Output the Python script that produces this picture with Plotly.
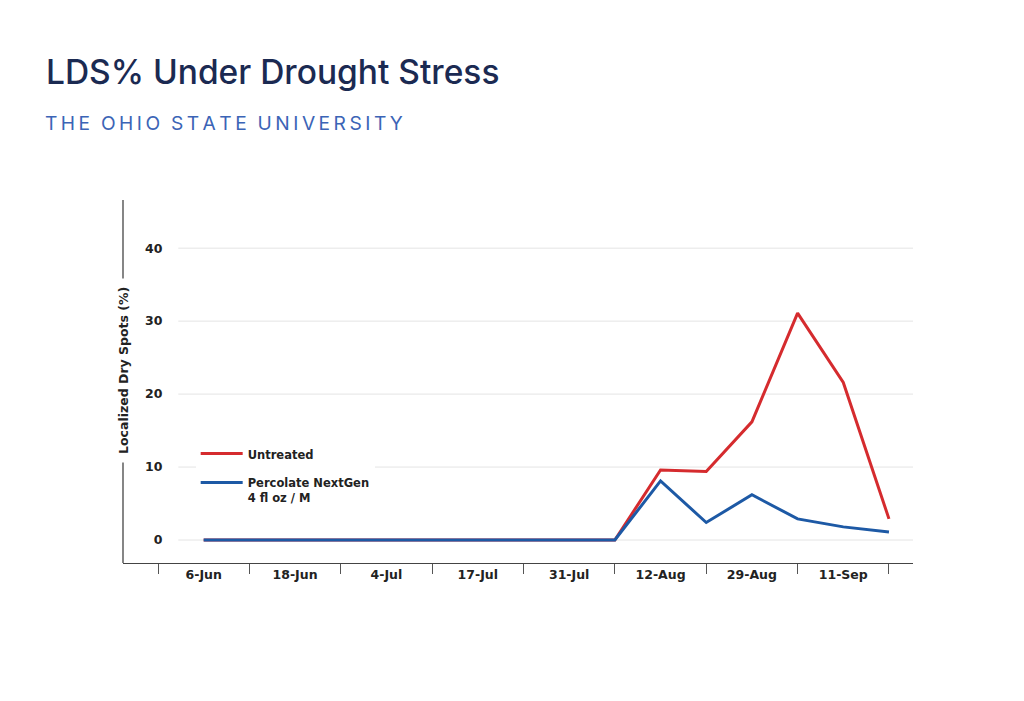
import plotly.graph_objects as go

# ---- data ----
categories = ["6-Jun", "18-Jun", "4-Jul", "17-Jul", "31-Jul", "12-Aug", "29-Aug", "11-Sep"]
obs_index = [0, 1, 2, 3, 4, 4.5, 5, 5.5, 6, 6.5, 7, 7.5]
untreated = [0, 0, 0, 0, 0, 0, 9.6, 9.4, 16.2, 31.1, 21.6, 2.9]
percolate = [0, 0, 0, 0, 0, 0, 8.1, 2.4, 6.2, 2.9, 1.8, 1.1]
y_ticks = [0, 10, 20, 30, 40]

RED = "#d52b2e"
BLUE = "#1d59a5"
BOLD = dict(family="DejaVu Sans", size=12, color="#222222", weight="bold")

fig = go.Figure()
fig.add_trace(go.Scatter(x=obs_index, y=untreated, mode="lines", name="Untreated",
                         legendgroup="a", line=dict(color=RED, width=3)))
fig.add_trace(go.Scatter(x=obs_index, y=percolate, mode="lines",
                         name="Percolate NextGen<br>4 fl oz / M", legendgroup="b",
                         line=dict(color=BLUE, width=3)))

# horizontal gridlines (start right of tick labels)
for v in y_ticks:
    fig.add_shape(type="line", xref="paper", yref="y", x0=0.07, x1=1, y0=v, y1=v,
                  line=dict(color="#e4e4e4", width=1), layer="below")

# y axis line at left edge
fig.add_shape(type="line", xref="paper", yref="paper", x0=0, x1=0, y0=0, y1=1,
              line=dict(color="#444444", width=1.3))

fig.update_layout(
    width=1024, height=701,
    margin=dict(l=123, r=111, t=200, b=138),
    paper_bgcolor="white", plot_bgcolor="white",
    showlegend=True,
    legend=dict(x=0.092, y=0.34, xanchor="left", yanchor="top", bgcolor="white",
                font=dict(BOLD, size=11.5),
                valign="top", tracegroupgap=10, itemwidth=42),
    xaxis=dict(
        range=[-0.883, 7.763], tickmode="array", tickvals=list(range(len(categories))),
        ticktext=categories, ticks="", showgrid=False, zeroline=False,
        showline=True, linecolor="#444444", linewidth=1.3,
        tickfont=dict(BOLD, size=12.5),
        minor=dict(ticks="outside", tick0=-0.5, dtick=1, ticklen=10,
                   tickcolor="#555555", tickwidth=1, showgrid=False),
    ),
    yaxis=dict(
        range=[-3.15, 46.6], tickmode="array", tickvals=y_ticks,
        anchor="free", position=0.05, showline=False, showgrid=False,
        zeroline=False, ticks="", tickfont=dict(BOLD, size=12.5),
    ),
)

# axis title over the y-axis line (white background creates the gap)
fig.add_annotation(text="Localized Dry Spots (%)", xref="paper", yref="paper",
                   x=0, y=(563 - 371) / 363, xanchor="center", yanchor="middle",
                   textangle=-90, showarrow=False, bgcolor="white",
                   font=dict(BOLD, size=12.5), borderpad=8)

# title and subtitle
fig.add_annotation(text="LDS% Under Drought Stress", xref="paper", yref="paper",
                   x=(44 - 123) / 790, y=1 + (200 - 72) / 363, xanchor="left", yanchor="middle",
                   showarrow=False,
                   font=dict(family="Inter", size=33.5, color="#1b2a52", weight=500))
fig.add_annotation(text="T\u2009H\u2009E  O\u2009H\u2009I\u2009O  S\u2009T\u2009A\u2009T\u2009E  U\u2009N\u2009I\u2009V\u2009E\u2009R\u2009S\u2009I\u2009T\u2009Y",
                   xref="paper", yref="paper",
                   x=(43 - 123) / 790, y=1 + (200 - 123) / 363, xanchor="left", yanchor="middle",
                   showarrow=False,
                   font=dict(family="Inter", size=19.2, color="#3b64b6"))

fig.write_html("out.html")
